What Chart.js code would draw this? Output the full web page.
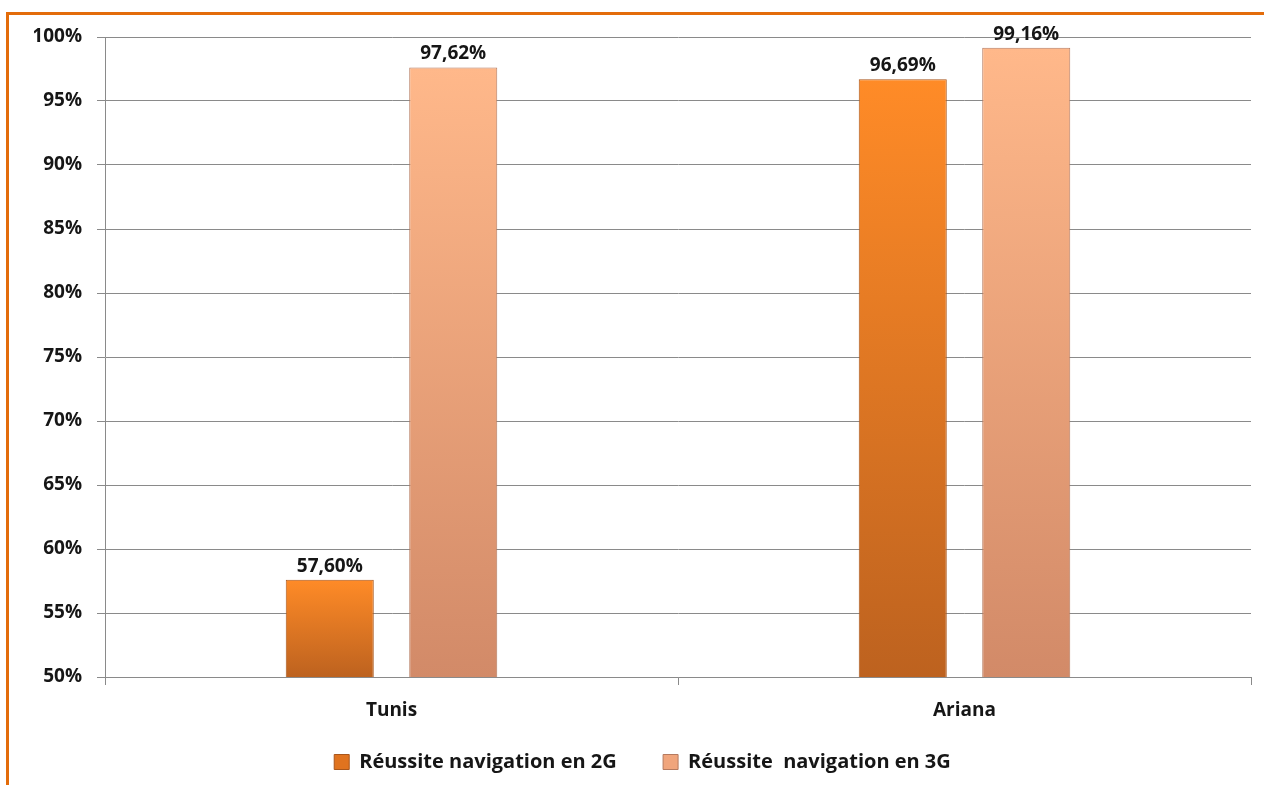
<!DOCTYPE html>
<html>
<head>
<meta charset="utf-8">
<script src="https://cdn.jsdelivr.net/npm/chart.js@4"></script>
<style>
  html, body { margin: 0; padding: 0; background: #fff; }
  #wrap { position: relative; width: 1264px; height: 785px; overflow: hidden; }
  #frame { position: absolute; left: 6px; top: 12px; width: 1300px; height: 800px;
           border-top: 3px solid #e36c0a; border-left: 3px solid #e36c0a; }
  #chart { position: absolute; left: 0; top: 0; }
</style>
</head>
<body>
<div id="wrap">
  <div id="frame"></div>
  <canvas id="chart" width="1264" height="785"></canvas>
</div>
<script>
const categories = ["Tunis", "Ariana"];
const seriesNames = ["Réussite navigation en 2G", "Réussite  navigation en 3G"];
const values2G = [57.60, 96.69];
const values3G = [97.62, 99.16];
const yTicks = [50, 55, 60, 65, 70, 75, 80, 85, 90, 95, 100];

const FONT = "'Open Sans', Lato, sans-serif";
const TEXT = "#161616";

// degrade vertical pour chaque barre (haut clair -> bas fonce)
function barGradient(top, bottom, fallback) {
    return (ctx) => {
        const chart = ctx.chart;
        const area = chart.chartArea;
        if (!area || ctx.type !== "data" || !chart.scales.y) return fallback;
        const yTop = chart.scales.y.getPixelForValue(ctx.parsed.y);
        const g = chart.ctx.createLinearGradient(0, yTop, 0, area.bottom);
        g.addColorStop(0, top);
        g.addColorStop(1, bottom);
        return g;
    };
}

const valueLabels = {
    id: "valueLabels",
    afterDatasetsDraw(chart) {
        const ctx = chart.ctx;
        ctx.save();
        ctx.font = "bold 19px " + FONT;
        ctx.fillStyle = TEXT;
        ctx.textAlign = "center";
        ctx.textBaseline = "bottom";
        chart.data.datasets.forEach((ds, i) => {
            chart.getDatasetMeta(i).data.forEach((bar, j) => {
                const txt = ds.data[j].toFixed(2).replace(".", ",") + "%";
                ctx.fillText(txt, bar.x, bar.y - 4);
            });
        });
        ctx.restore();
    }
};

new Chart(document.getElementById("chart"), {
    type: "bar",
    data: {
        labels: categories,
        datasets: [
            {
                label: seriesNames[0],
                data: values2G,
                backgroundColor: barGradient("#ff8b27", "#bd621f", "#f07c22"),
                borderColor: "#a9561b",
                borderWidth: 1,
                legendColor: "#e0731f",
                categoryPercentage: 0.431,
                barPercentage: 0.713
            },
            {
                label: seriesNames[1],
                data: values3G,
                backgroundColor: barGradient("#ffb88a", "#d28a68", "#eea57a"),
                borderColor: "#b57a5f",
                borderWidth: 1,
                legendColor: "#f0a57c",
                categoryPercentage: 0.431,
                barPercentage: 0.713
            }
        ]
    },
    options: {
        responsive: false,
        animation: false,
        layout: { padding: { top: 37, right: 13, left: 34, bottom: 3 } },
        plugins: {
            tooltip: { enabled: false },
            legend: {
                position: "bottom",
                labels: {
                    font: { family: FONT, size: 20, weight: "bold" },
                    color: TEXT,
                    boxWidth: 15,
                    boxHeight: 15,
                    padding: 10,
                    generateLabels(chart) {
                        return chart.data.datasets.map((ds, i) => ({
                            // espaces pour ecarter les deux entrees comme dans l'original
                            text: i === 0 ? ds.label + "       " : ds.label,
                            fillStyle: ds.legendColor,
                            strokeStyle: ds.borderColor,
                            lineWidth: 1,
                            fontColor: TEXT,
                            datasetIndex: i
                        }));
                    }
                }
            }
        },
        scales: {
            x: {
                grid: { display: true, drawOnChartArea: false, tickLength: 8, color: "#8a8a8a" },
                border: { display: true, color: "#8a8a8a" },
                ticks: { font: { family: FONT, size: 19, weight: "bold" }, color: TEXT, padding: 14 },
                afterFit(scale) { scale.height = 65; }
            },
            y: {
                min: 50,
                max: 100,
                afterBuildTicks(scale) { scale.ticks = yTicks.map(v => ({ value: v })); },
                grid: { color: "#8a8a8a", tickLength: 8 },
                border: { display: true, color: "#8a8a8a" },
                ticks: {
                    font: { family: FONT, size: 19, weight: "bold" },
                    color: TEXT,
                    padding: 15,
                    callback: v => v + "%"
                },
                afterFit(scale) { scale.width = 71; }
            }
        }
    },
    plugins: [valueLabels]
});
</script>
</body>
</html>
